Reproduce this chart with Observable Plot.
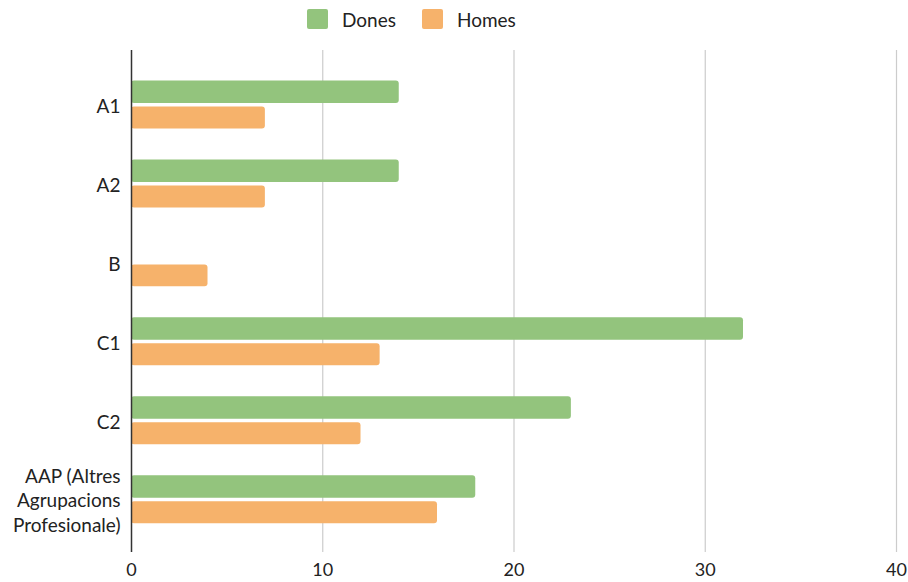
<!DOCTYPE html>
<html>
<head>
<meta charset="utf-8">
<script src="https://cdn.jsdelivr.net/npm/d3@7"></script>
<script src="https://cdn.jsdelivr.net/npm/@observablehq/plot@0.6"></script>
<style>
  html, body { margin: 0; padding: 0; background: #fff; }
  body { width: 908px; height: 582px; overflow: hidden; font-family: Lato, "Open Sans", sans-serif; }
  #legend { height: 38px; display: flex; align-items: center; padding-left: 307px; box-sizing: border-box; font-size: 19px; color: #222; }
  .item { display: flex; align-items: center; margin-right: 26px; }
  .sw { width: 21px; height: 20px; border-radius: 2px; margin-right: 14px; }
  svg { display: block; }
</style>
</head>
<body>
<div id="legend"></div>
<div id="chart"></div>
<script>
const categories = ["A1", "A2", "B", "C1", "C2", "AAP (Altres Agrupacions Profesionale)"];
const tickLabels = ["A1", "A2", "B", "C1", "C2", "AAP (Altres\nAgrupacions\nProfesionale)"];
const series = ["Dones", "Homes"];
const colors = ["#93c47d", "#f6b26b"];
const dones = [14, 14, 0, 32, 23, 18];
const homes = [7, 7, 4, 13, 12, 16];
const xTicks = [0, 10, 20, 30, 40];

const rowsD = categories.map((c, i) => ({category: c, value: dones[i]}));
const rowsH = categories.map((c, i) => ({category: c, value: homes[i]}));

const legend = document.getElementById("legend");
series.forEach((s, i) => {
  const it = document.createElement("div");
  it.className = "item";
  it.innerHTML = `<div class="sw" style="background:${colors[i]}"></div><span>${s}</span>`;
  legend.appendChild(it);
});

const chart = Plot.plot({
  width: 908,
  height: 544,
  marginLeft: 131,
  marginRight: 12,
  marginTop: 12,
  marginBottom: 30,
  style: {fontFamily: "Lato, 'Open Sans', sans-serif", fontSize: "19px", color: "#222", background: "#fff"},
  x: {domain: [0, 40], ticks: xTicks},
  y: {domain: categories, paddingInner: 0, paddingOuter: 0.18, align: 0.53, round: false},
  marks: [
    Plot.ruleX(xTicks.filter(d => d !== 0), {stroke: "#cccccc", strokeWidth: 1.2}),
    Plot.barX(rowsD.filter(d => d.value > 0), {x: "value", y: "category", fill: colors[0], insetTop: 15.5, insetBottom: 41, rx: 3}),
    Plot.barX(rowsH.filter(d => d.value > 0), {x: "value", y: "category", fill: colors[1], insetTop: 41.5, insetBottom: 15.5, rx: 3}),
    Plot.ruleX([0], {stroke: "#333", strokeWidth: 1.5}),
    Plot.axisX({ticks: xTicks, tickSize: 0, tickPadding: 11, label: null, fontSize: 18, fill: "#222"}),
    Plot.axisY({tickSize: 0, tickPadding: 11, label: null, fontSize: 19, fill: "#222", lineHeight: 1.28,
      tickFormat: d => tickLabels[categories.indexOf(d)]})
  ]
});
document.getElementById("chart").appendChild(chart);
</script>
</body>
</html>
